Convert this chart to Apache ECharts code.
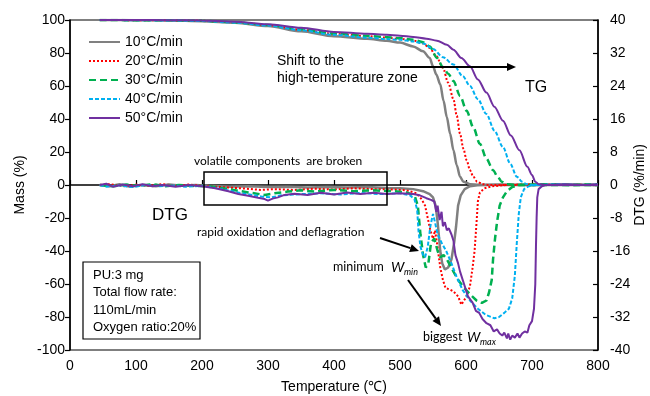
<!DOCTYPE html>
<html><head><meta charset="utf-8">
<script src="https://cdn.jsdelivr.net/npm/echarts@6/dist/echarts.min.js"></script>
<style>html,body{margin:0;padding:0;background:#fff}#c{width:650px;height:396px}</style>
</head><body><div id="c"></div>
<script>
const seriesNames = ['10°C/min','20°C/min','30°C/min','40°C/min','50°C/min'];
const xTicks = {min:0,max:800,interval:100};
const massTicks = {min:-100,max:100,interval:20};
const dtgTicks = {min:-40,max:40,interval:8};

// TG (mass %, [temperature, mass])
const tg10 = [[45,100],[100,99.9],[150,99.7],[200,99.3],[250,98.3],[300,96.3],[350,93.2],[400,90.2],[450,88.6],[480,87.4],[500,86.3],[520,84],[535,81],[545,77],[550,72],[555,67],[561,61],[566,51],[571,41],[576,31],[581,21],[586,12],[591,5],[596,2],[606,0.5],[620,0],[800,0]];
const tg20 = [[45,100],[100,99.9],[150,99.8],[200,99.5],[250,98.6],[300,96.9],[350,94.2],[400,91.6],[450,90.2],[480,89.3],[500,88.6],[520,87.6],[535,85.8],[545,83],[555,78],[565,71],[573,62],[581,52],[586,42],[591,31],[596,22],[601,15],[606,9],[611,5],[617,2],[625,0.5],[635,0],[800,0]];
const tg30 = [[45,100],[100,99.9],[150,99.8],[200,99.5],[250,98.6],[300,97],[350,94.4],[400,91.8],[450,90.4],[480,89.6],[500,89],[520,88],[535,86.5],[545,84],[556,77],[565,71.5],[573,67.5],[581,63],[591,54],[601,45],[611,35],[621,25],[631,16],[641,9],[648,5],[654,2],[662,0.5],[675,0],[800,0]];
const tg40 = [[45,100],[100,99.9],[150,99.7],[200,99.4],[250,98.4],[300,96.6],[350,93.8],[400,91],[450,89.3],[480,88.5],[500,88],[520,87],[535,85.8],[550,82.5],[565,77.5],[581,73],[595,66],[606,60],[618,52],[631,43],[643,33],[656,23],[667,13],[677,5],[685,2],[692,0.5],[700,0],[800,0]];
const tg50 = [[45,100],[100,100],[150,99.9],[200,99.7],[250,99],[300,97.5],[350,95.3],[400,92.8],[450,91.6],[480,91],[500,90.5],[520,89.7],[540,88.7],[556,87.5],[571,85],[581,82],[593,77],[606,72],[618,64],[631,56],[643,47.5],[656,39],[668,30],[681,21],[693,11],[700,6],[705,2],[710,0.5],[720,0],[800,0]];

// DTG (%/min, [temperature, dtg])
const dtg10 = [[45,0],[60,-0.3],[75,0.2],[90,-0.4],[110,0],[130,-0.3],[150,0.1],[170,-0.2],[190,0],[210,-0.2],[240,-0.4],[270,-0.3],[300,-0.5],[330,-0.4],[360,-0.6],[390,-0.5],[420,-0.6],[450,-0.5],[480,-0.7],[500,-0.8],[520,-1],[535,-1.5],[545,-2.2],[550,-3],[554,-5],[557,-9],[561,-16],[564,-19],[568,-20.5],[573,-20],[578,-18],[582,-14],[585,-10],[588,-5],[592,-2.5],[598,-1],[606,-0.3],[620,0],[650,0.1],[700,0],[750,0.1],[800,0]];
const dtg20 = [[45,0],[60,0.2],[80,-0.3],[100,0.1],[120,-0.2],[140,0.2],[160,-0.2],[180,0.1],[200,-0.2],[230,-0.5],[260,-0.8],[290,-1.2],[310,-1],[340,-1.2],[370,-0.9],[400,-1.1],[430,-0.8],[460,-1],[490,-1.1],[510,-1.3],[525,-2],[533,-3.5],[538,-5],[542,-8],[546,-11],[550,-13],[553,-11],[556,-14],[561,-20],[565,-23],[569,-25],[575,-25.3],[581,-25.8],[588,-27],[593,-29],[597,-28],[601,-27],[606,-24.5],[610,-20],[613,-16],[616,-9],[618,-4],[621,-1.8],[628,-0.8],[640,-0.3],[660,0],[700,0.2],[750,0],[800,0.1]];
const dtg30 = [[45,0],[65,-0.3],[85,0.1],[105,-0.2],[125,0.2],[145,-0.3],[165,0],[185,-0.2],[210,-0.3],[240,-1],[270,-1.8],[295,-2.4],[310,-2],[330,-1.6],[350,-1.3],[370,-1.6],[400,-1.2],[430,-1.5],[460,-1.3],[490,-1.5],[510,-1.8],[522,-2.5],[527,-5],[531,-12],[535,-17],[539,-20],[543,-19],[547,-14],[552,-13],[557,-16],[561,-17.5],[566,-17],[571,-18],[576,-19.5],[581,-21],[588,-23],[596,-24.7],[606,-26.5],[616,-28],[624,-28.6],[631,-28],[635,-26],[639,-23],[641,-18],[644,-13],[647,-9],[651,-5],[656,-3],[662,-1.5],[670,-0.5],[680,0],[720,0.2],[760,0],[800,0.2]];
const dtg40 = [[45,0],[55,-0.4],[75,-0.1],[95,-0.5],[115,0],[135,-0.3],[155,-0.1],[175,-0.4],[200,-0.2],[230,-1],[260,-2],[290,-2.8],[305,-3],[320,-2.5],[350,-2.2],[380,-2],[410,-2.3],[440,-1.9],[470,-2.2],[500,-2],[515,-2.5],[522,-3.5],[526,-6],[528,-11],[531,-15],[535,-17],[538,-17.5],[542,-15],[546,-10],[550,-7],[553,-9],[557,-12],[563,-14],[570,-16],[578,-19],[585,-22],[595,-25.5],[606,-28],[618,-30],[630,-31.5],[643,-32.3],[650,-32],[658,-31],[665,-30],[670,-27.5],[674,-22],[677,-14],[680,-7],[683,-3],[688,-1],[695,-0.3],[705,0],[740,0.2],[770,0],[800,0.1]];
const dtg50 = [[45,0],[55,0.3],[65,-0.4],[80,0.1],[95,-0.3],[110,0.2],[125,-0.3],[140,0],[160,-0.4],[180,0],[200,-0.3],[220,-0.8],[240,-1.5],[255,-2.2],[270,-2.6],[285,-3.1],[295,-3.4],[300,-3.8],[303,-4.2],[307,-3.3],[315,-3],[325,-2.4],[340,-2.1],[360,-2.4],[380,-1.9],[400,-2.3],[420,-1.8],[440,-2.2],[460,-1.9],[480,-2.2],[500,-2],[520,-2.2],[530,-2.5],[540,-3.2],[547,-3.6],[552,-4],[555,-6.5],[557,-5],[560,-8.5],[563,-6.5],[565,-10],[568,-9],[571,-11],[574,-10.5],[578,-12],[581,-13.5],[584,-17],[588,-19],[591,-21],[597,-24],[603,-27],[610,-28.5],[615,-30.5],[620,-31],[625,-32.5],[631,-33.5],[637,-34],[642,-35.5],[647,-35],[651,-36],[655,-36.5],[658,-35.8],[662,-37.2],[664,-36],[667,-37.5],[670,-36.5],[674,-37],[678,-36],[681,-37],[685,-36],[689,-35.5],[693,-35.8],[696,-34],[700,-33],[703,-30],[705,-24],[706,-15],[707,-8],[708,-3],[710,-1],[715,-0.3],[720,0],[750,0.2],[780,0],[800,0.2]];

const tgData = [tg10, tg20, tg30, tg40, tg50];
const dtgData = [dtg10, dtg20, dtg30, dtg40, dtg50];

const styles = [
  {color:'#808080', width:2.5, type:'solid'},
  {color:'#ff0000', width:2, type:[2,2]},
  {color:'#00b050', width:2.5, type:[7,4]},
  {color:'#00b0f0', width:2, type:[4,2]},
  {color:'#7030a0', width:2, type:'solid'}
];

const series = [];
for (let i = 0; i < 5; i++) {
  const st = styles[i];
  series.push({name: seriesNames[i], type:'line', xAxisIndex:0, yAxisIndex:0, data: tgData[i], showSymbol:false, symbol:'none', smooth:0.3, smoothMonotone:'x',
    lineStyle:{color:st.color, width:st.width, type:st.type, cap:'butt'}, itemStyle:{color:st.color}, z:2+i, animation:false});
}
for (let i = 0; i < 5; i++) {
  const st = styles[i];
  series.push({name: seriesNames[i], type:'line', xAxisIndex:0, yAxisIndex:1, data: dtgData[i], showSymbol:false, symbol:'none',
    lineStyle:{color:st.color, width:st.width, type:st.type, cap:'butt'}, itemStyle:{color:st.color}, z:2+i, animation:false});
}

function arrow(x1,y1,x2,y2){
  const a = Math.atan2(y2-y1, x2-x1), L = 9, W = 4;
  const c = Math.cos(a), s = Math.sin(a);
  const bx = x2 - L*c, by = y2 - L*s;
  return [
    {type:'line', shape:{x1:x1,y1:y1,x2:bx,y2:by}, style:{stroke:'#000', lineWidth:2}, z:100},
    {type:'polygon', shape:{points:[[x2,y2],[bx - W*s, by + W*c],[bx + W*s, by - W*c]]}, style:{fill:'#000'}, z:100}
  ];
}
function txt(x,y,t,font,extra){
  return Object.assign({type:'text', x:x, y:y, z:100, style:{text:t, font:font, fill:'#000', textVerticalAlign:'middle', verticalAlign:'middle'}}, extra||{});
}
const arial = 'Liberation Sans, Arial, sans-serif';
const lato = 'Lato, sans-serif';

const graphics = [].concat(
  [txt(277,61,'Shift to the','14px '+arial), txt(277,78,'high-temperature zone','14px '+arial)],
  arrow(400,67,516,67),
  [txt(525,88,'TG','16px '+arial)],
  [txt(194,161,'volatile components  are broken','12px '+lato)],
  [{type:'rect', shape:{x:204,y:172,width:183,height:33}, style:{fill:'none', stroke:'#000', lineWidth:1.5}, z:100}],
  [txt(152,215,'DTG','17px '+arial)],
  [txt(197,232,'rapid oxidation and deflagration','12px '+lato)],
  arrow(380,238,419,251),
  [txt(333,267,'minimum','12.5px '+lato), txt(391,267,'W','italic 14px '+lato), txt(404,272,'min','italic 9px '+lato)],
  arrow(408,280,441,326),
  [txt(423,337,'biggest','12.5px '+lato), txt(467,337,'W','italic 14px '+lato), txt(480,342,'max','italic 9px '+lato)],
  [{type:'rect', shape:{x:83,y:262,width:117,height:77}, style:{fill:'#fff', stroke:'#000', lineWidth:1.2}, z:99}],
  [txt(93,275,'PU:3 mg','13px '+arial), txt(93,292,'Total flow rate:','13px '+arial), txt(93,310,'110mL/min','13px '+arial), txt(93,327,'Oxygen ratio:20%','13px '+arial)]
);

const chart = echarts.init(document.getElementById('c'), null, {renderer:'canvas'});
chart.setOption({
  animation:false,
  backgroundColor:'#fff',
  textStyle:{fontFamily:arial},
  grid:{left:70, right:52, top:20, bottom:46, show:true, borderColor:'#000', borderWidth:1.2, backgroundColor:'transparent', outerBoundsMode:'none', containLabel:false},
  legend:{show:true, orient:'vertical', left:83, top:30, itemWidth:31, itemHeight:14, itemGap:5,
    itemStyle:{opacity:0, borderWidth:0},
    textStyle:{fontSize:14, color:'#000', fontFamily:arial}, data:seriesNames},
  xAxis:{type:'value', min:xTicks.min, max:xTicks.max, interval:xTicks.interval,
    name:'Temperature (℃)', nameLocation:'middle', nameGap:30, nameMoveOverlap:false, nameTextStyle:{fontSize:14, color:'#000', fontFamily:arial},
    axisLine:{show:true, lineStyle:{color:'#000', width:1.5}}, axisTick:{show:true, inside:true, length:5, lineStyle:{color:'#000', width:1.2}},
    axisLabel:{fontSize:14, color:'#000', margin:9, fontFamily:arial}, splitLine:{show:false}},
  yAxis:[
    {type:'value', min:massTicks.min, max:massTicks.max, interval:massTicks.interval, position:'left',
      name:'Mass (%)', nameLocation:'middle', nameGap:43, nameRotate:90, nameMoveOverlap:false, nameTextStyle:{fontSize:14, color:'#000', fontFamily:arial},
      axisLine:{show:true, lineStyle:{color:'#000', width:1.5}}, axisTick:{show:true, inside:false, length:5, lineStyle:{color:'#000', width:1.2}},
      axisLabel:{fontSize:14, color:'#000', margin:5, fontFamily:arial}, splitLine:{show:false}},
    {type:'value', min:dtgTicks.min, max:dtgTicks.max, interval:dtgTicks.interval, position:'right',
      name:'DTG (%/min)', nameLocation:'middle', nameGap:35, nameRotate:90, nameMoveOverlap:false, nameTextStyle:{fontSize:14, color:'#000', fontFamily:arial},
      axisLine:{show:true, lineStyle:{color:'#000', width:1.5}}, axisTick:{show:true, inside:true, length:5, lineStyle:{color:'#000', width:1.2}},
      axisLabel:{fontSize:14, color:'#000', margin:12, fontFamily:arial}, splitLine:{show:false}}
  ],
  series: series,
  graphic: graphics
});
</script>
</body></html>
